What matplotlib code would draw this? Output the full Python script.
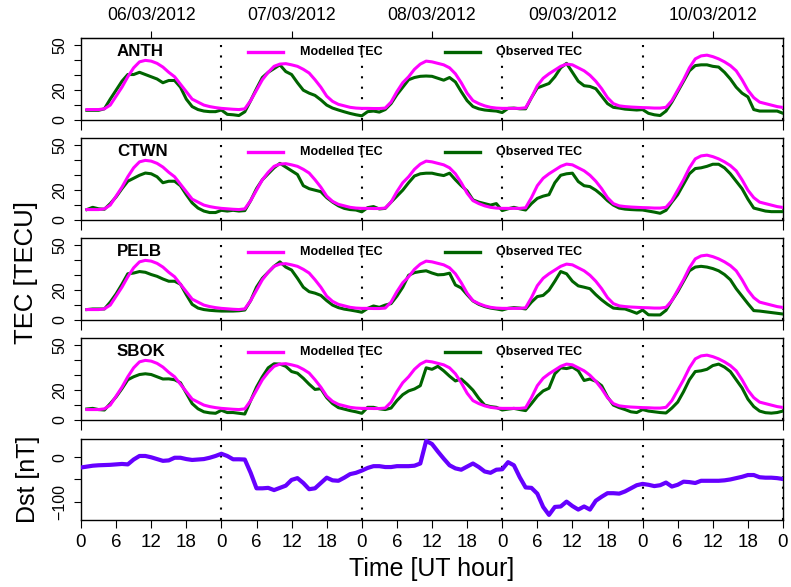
import matplotlib
matplotlib.use("Agg")
import matplotlib.pyplot as plt
from matplotlib.lines import Line2D

plt.rcParams['font.family'] = ['Liberation Sans', 'DejaVu Sans']

# ---------------- data ----------------
hours_tec = list(range(1, 121))
hours_dst = list(range(0, 121))

modelled_tec = [
    7, 7, 7, 7.5, 10, 16, 22, 29, 35, 39, 40, 39.5, 38, 35.5, 32, 29, 24, 19, 14, 12, 10, 9, 8.3, 7.8,
    7.5, 7.2, 7, 7.5, 13, 20, 27, 32, 36, 37.5, 37.8, 37, 36, 34, 31.5, 27, 22, 16, 12.5, 10.5, 9.5, 8.5, 8, 7.8,
    7.8, 7.7, 7.7, 8, 12, 19, 25, 29, 34, 37.5, 39.5, 39, 38, 37, 35, 31, 25, 18, 13, 11, 9.5, 8.5, 8, 7.8,
    7.8, 7.8, 7.8, 8.2, 15, 23, 28, 31, 33.5, 36, 37.5, 37, 35, 33, 30, 26, 21, 15, 11, 9.5, 9, 8.7, 8.5, 8.3,
    8.2, 8, 8, 8.5, 13, 20, 27, 35, 41, 43, 43.5, 42.5, 41, 39, 36.5, 33, 27, 20, 15, 12, 11, 10, 9, 8.4,
]

anth_obs = [
    6.5, 6.5, 6.5, 7.5, 14, 20, 26, 30.5, 30.5, 32, 30.5, 29, 27.5, 25, 26.5, 26.5, 22, 14, 9, 7, 6, 5.6, 5.6, 6.7,
    3.8, 3.5, 3, 5.5, 13, 21, 28.5, 32, 34.5, 37, 32.5, 30.5, 25, 20, 18, 16.5, 13.5, 10, 8, 6.7, 5.5, 4.4, 3.5, 2.8,
    5.6, 6, 5.3, 7, 11, 17, 22, 27, 28.5, 29.3, 29.5, 29.3, 28, 26.7, 28.5, 25.5, 19, 13, 9, 7.5, 6.7, 6.3, 6, 5,
    7.8, 8, 7.5, 7.5, 15, 21.5, 23, 24.5, 29, 35, 38, 32, 26, 23, 22.5, 21, 16, 11, 8.5, 8, 7.3, 7, 6.7, 7,
    4.5, 3.5, 3, 6, 12, 19, 26, 33, 36.5, 37, 37, 36, 35.5, 32, 27.5, 22, 18, 15.5, 7, 6, 6, 6, 6, 4.5,
]

ctwn_obs = [
    7, 8.5, 7.5, 7.2, 11, 15.5, 21, 26, 28, 30, 31.5, 31, 29, 25, 26, 26, 23, 17, 11.5, 8, 6, 5, 5, 6.5,
    6, 6.5, 6, 6.3, 13, 21, 27, 31, 35, 38, 35.5, 33, 30.5, 23, 21, 20, 19, 15, 12, 9.5, 7.8, 7, 6.7, 5.5,
    8.3, 9, 7.4, 7.8, 12, 16, 20, 25, 29.5, 31, 31.4, 31.4, 30.5, 29.8, 31.4, 27, 23, 19.5, 13.5, 12, 11, 10, 11, 6.3,
    7.5, 8.5, 7.5, 6.7, 11, 14.5, 16, 17, 25, 30, 31, 31.4, 25.8, 23, 22.4, 20, 16.8, 13, 10, 8, 7.3, 7, 6.8, 6.7,
    6, 5.3, 4.5, 6.5, 12, 17, 24, 31, 34.5, 35, 36, 37.4, 37.4, 35, 31, 26, 21, 14, 8, 7, 6, 5.6, 5.6, 5.6,
]

pelb_obs = [
    7, 7.4, 7.4, 7.4, 12, 17.5, 24, 31, 31.5, 32.5, 32, 30.5, 29.3, 27.5, 26, 26, 24, 17, 10.5, 8, 7, 6.5, 6.2, 6,
    6, 6, 6.2, 6.7, 13, 22, 28, 32, 36, 39, 35.5, 33.5, 28, 22, 19, 18, 16.5, 13, 10, 8.3, 7.3, 6.7, 6, 5.2,
    7.8, 9.4, 8.5, 10, 11, 16, 22, 30, 31.8, 32.5, 33, 31.5, 30.3, 30.5, 31.4, 23.5, 21.5, 17, 12.8, 10.5, 9, 8, 7.4, 6.7,
    7.8, 8.3, 8, 7.4, 12, 15.7, 16.5, 20, 26, 32.5, 31, 26, 22.9, 22, 21, 17, 13.5, 10.5, 8, 7.6, 7.4, 6, 4.5, 6.7,
    3.5, 3.4, 3.4, 6.5, 13, 19, 26, 33, 35.5, 36, 35.5, 34.5, 33, 30.5, 27, 21, 16, 11, 6.3, 6, 5.5, 5, 4.5, 4,
]

sbok_obs = [
    7.4, 7.8, 7, 6.7, 11, 15.5, 21, 27, 29, 30.5, 31, 30.5, 29, 27.5, 27.6, 27, 25, 18, 11, 7.5, 5.5, 4.8, 4.5, 6.5,
    5, 5, 4.5, 4, 13, 22, 29, 35, 37.7, 37.5, 36, 32.5, 31.4, 28, 24, 20.5, 21, 15, 11, 8.3, 7.3, 6.3, 5.5, 4.5,
    8.5, 8.5, 7.5, 7, 8, 13, 17, 19.5, 20.8, 23, 35, 34, 36, 33, 29.4, 26.2, 27.5, 24, 20, 14.5, 10, 9, 8.5, 6.7,
    7.3, 7.8, 7, 6.3, 11, 16, 19.5, 21.3, 31, 35, 34.5, 35.5, 33, 26.5, 27.5, 26, 23, 15.5, 10, 8.3, 7, 5.5, 5, 7,
    6, 5.5, 5, 4.7, 8, 12, 19, 27, 32.5, 33, 34, 36.5, 37.5, 35.5, 32.5, 27, 21.5, 14, 9, 6, 4.9, 4.6, 5, 6,
]

dst = [
    -23, -21, -19, -18, -17.5, -17, -16, -15, -16, -5, 3, 3, 0, -4, -8, -7, -1, -1, -4, -6, -5, -4, -1, 3, 8,
    3, -4.5, -4.5, -5, -35, -70, -70, -69, -74, -69, -64, -51, -47, -58, -72, -70, -58, -46, -52, -53, -46, -38, -35, -30,
    -24, -20, -20, -22, -22, -20, -20, -20, -19, -14, 37, 30, 13, -3, -18, -25, -28, -21, -14, -22, -32, -35, -28, -27,
    -11, -18, -45, -68, -69, -82, -112, -130, -112, -111, -100, -110, -118, -111, -118, -98, -89, -81, -81, -82, -77, -70, -63, -60,
    -62, -65, -63, -57, -66, -62, -55, -56, -58, -53, -53, -53, -53, -52, -50, -47, -44, -40, -40, -45, -46, -46, -47, -49,
]

stations = ["ANTH", "CTWN", "PELB", "SBOK"]
observed = [anth_obs, ctwn_obs, pelb_obs, sbok_obs]
dates = ["06/03/2012", "07/03/2012", "08/03/2012", "09/03/2012", "10/03/2012"]
date_tick_hours = [12, 36, 60, 84, 108]
day_bounds = [24, 48, 72, 96, 120]
hour_ticks = list(range(0, 121, 6))
hour_labels = [str(h % 24) for h in hour_ticks]
tec_ticks = [0, 10, 20, 30, 40, 50]
tec_labels = ["0", "", "20", "", "", "50"]
dst_ticks = [-100, -50, 0]
dst_labels = ["\u2212100", "", "0"]

# ---------------- style ----------------
MAG = "#FF00FF"
GRN = "#006400"
DSTC = "#6600FF"
W, H = 791, 587
fig = plt.figure(figsize=(W / 100, H / 100), dpi=100)

left_px, right_px = 81, 783
panels_px = [(38, 120), (138, 220), (238, 320), (338, 420), (439, 520)]


def make_ax(top, bot):
    return fig.add_axes([left_px / W, 1 - bot / H, (right_px - left_px) / W, (bot - top) / H])


def vlines(ax):
    for d in day_bounds:
        ax.axvline(d, color="black", lw=1.5, linestyle=(0, (1, 4)), zorder=1, clip_on=False)


axes = []
for i, (top, bot) in enumerate(panels_px[:4]):
    ax = make_ax(top, bot)
    axes.append(ax)
    ax.set_xlim(0, 120)
    ax.set_ylim(0, 55)
    vlines(ax)
    ax.plot(hours_tec, observed[i], color=GRN, lw=2.2, zorder=3, solid_joinstyle="round")
    ax.plot(hours_tec, modelled_tec, color=MAG, lw=2.2, zorder=4, solid_joinstyle="round")
    ax.set_yticks(tec_ticks)
    ax.set_yticklabels(tec_labels, rotation=90, va="center", fontsize=11.5)
    ax.set_xticks([0] + day_bounds)
    ax.set_xticklabels([])
    ax.tick_params(axis="y", direction="out", length=5, width=0.8, pad=5)
    ax.tick_params(axis="x", direction="out", length=7, width=0.8)
    for sp in ax.spines.values():
        sp.set_linewidth(1.0)
    ax.text(0.051, 0.84, stations[i], transform=ax.transAxes, fontsize=12.2,
            fontweight="bold", ha="left", va="center")
    yk = 0.83
    ax.add_line(Line2D([0.238, 0.288], [yk, yk], transform=ax.transAxes, color=MAG, lw=2.4))
    ax.text(0.312, yk, "Modelled TEC", transform=ax.transAxes, fontsize=9,
            fontweight="bold", ha="left", va="center")
    ax.add_line(Line2D([0.5185, 0.568], [yk, yk], transform=ax.transAxes, color=GRN, lw=2.4))
    ax.text(0.591, yk, "Observed TEC", transform=ax.transAxes, fontsize=9,
            fontweight="bold", ha="left", va="center")

# top date axis
top_ax = axes[0].secondary_xaxis("top")
top_ax.set_xticks(date_tick_hours)
top_ax.set_xticklabels(dates, fontsize=12.7)
top_ax.tick_params(direction="out", length=5, width=0.8, pad=5)

# Dst panel
axd = make_ax(*panels_px[4])
axd.set_xlim(0, 120)
axd.set_ylim(-141.5, 41.3)
vlines(axd)
axd.plot(hours_dst, dst, color=DSTC, lw=3.0, zorder=3, solid_joinstyle="round")
axd.set_yticks(dst_ticks)
axd.set_yticklabels(dst_labels, rotation=90, va="center", fontsize=11.5)
axd.set_xticks(hour_ticks)
axd.set_xticklabels(hour_labels, fontsize=13.5)
axd.tick_params(axis="y", direction="out", length=5, width=0.8, pad=5)
axd.tick_params(axis="x", direction="out", length=6, width=0.8, pad=4)
for sp in axd.spines.values():
    sp.set_linewidth(1.0)

fig.text(26 / W, 1 - 272 / H, "TEC [TECU]", rotation=90, ha="center", va="center", fontsize=18.5)
fig.text(28 / W, 1 - 479 / H, "Dst [nT]", rotation=90, ha="center", va="center", fontsize=18)
fig.text(432 / W, 1 - 569 / H, "Time [UT hour]", ha="center", va="center", fontsize=18)

fig.savefig("out.png", dpi=100)
